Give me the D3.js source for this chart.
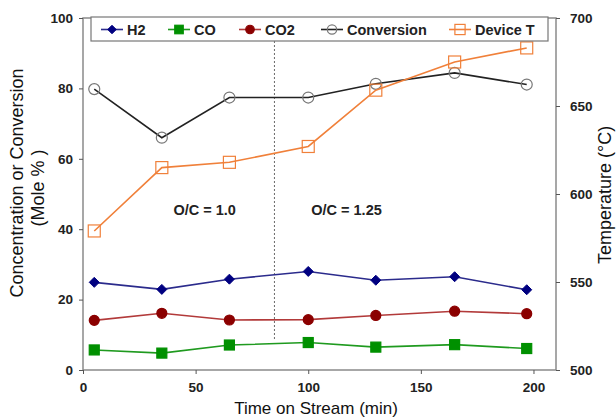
<!DOCTYPE html>
<html><head><meta charset="utf-8">
<script src="https://cdn.jsdelivr.net/npm/d3@7"></script>
<style>
body{margin:0;background:#fff;}
text{font-family:"Liberation Sans",Arial,sans-serif;}
</style></head>
<body><svg id="c" width="616" height="418"></svg>
<script>
const times = [5, 35, 65, 100, 130, 165, 197];
const h2 = [24.9, 22.9, 25.8, 28.0, 25.5, 26.5, 22.8];
const co = [5.7, 4.8, 7.1, 7.8, 6.5, 7.2, 6.1];
const co2 = [14.1, 16.1, 14.2, 14.3, 15.5, 16.7, 16.0];
const conversion = [79.8, 66.0, 77.4, 77.4, 81.3, 84.4, 81.1];
const deviceT = [579, 615, 618, 627, 659, 675, 683];
const xTicks = [0, 50, 100, 150, 200];
const yTicks = [0, 20, 40, 60, 80, 100];
const y2Ticks = [500, 550, 600, 650, 700];
const legendLabels = ["H2", "CO", "CO2", "Conversion", "Device T"];
const annotations = [{x: 54, y: 44, t: "O/C = 1.0"}, {x: 117, y: 44, t: "O/C = 1.25"}];
const dividerX = 85;

const W = 616, H = 418;
const m = {l: 83, r: 60, t: 18, b: 48};
const svg = d3.select("#c");
const x = d3.scaleLinear().domain([0, 210]).range([m.l, W - m.r]);
const y = d3.scaleLinear().domain([0, 100]).range([H - m.b, m.t]);
const y2 = d3.scaleLinear().domain([500, 700]).range([H - m.b, m.t]);

// frame
svg.append("rect").attr("x", m.l).attr("y", m.t).attr("width", W - m.r - m.l).attr("height", H - m.b - m.t)
  .attr("fill", "none").attr("stroke", "#8a8a8a").attr("stroke-width", 1.5);

function styleAxis(g) {
  g.select(".domain").remove();
  g.selectAll(".tick line").attr("stroke", "#555");
  g.selectAll("text").attr("font-size", 13.5).attr("font-weight", "bold").attr("fill", "#222");
}
svg.append("g").attr("transform", `translate(0,${H - m.b})`)
  .call(d3.axisBottom(x).tickValues(xTicks).tickSize(4).tickPadding(8)).call(styleAxis);
svg.append("g").attr("transform", `translate(${m.l},0)`)
  .call(d3.axisLeft(y).tickValues(yTicks).tickSize(4).tickPadding(6)).call(styleAxis);
svg.append("g").attr("transform", `translate(${W - m.r},0)`)
  .call(d3.axisRight(y2).tickValues(y2Ticks).tickSize(4).tickPadding(10)).call(styleAxis);

// divider
svg.append("line").attr("x1", x(dividerX)).attr("x2", x(dividerX)).attr("y1", 41).attr("y2", y(8.5))
  .attr("stroke", "#444").attr("stroke-width", 0.8).attr("stroke-dasharray", "2,2");

// annotations
svg.selectAll(".ann").data(annotations).enter().append("text")
  .attr("x", d => x(d.x)).attr("y", d => y(d.y)).attr("text-anchor", "middle")
  .attr("font-size", 14.5).attr("font-weight", "bold").attr("fill", "#222").text(d => d.t);

const series = [
  {vals: h2, sc: y, line: "#2b2b8c", mark: "diamond", fill: "#000080", stroke: "#000080", size: 5},
  {vals: co, sc: y, line: "#1f9a1f", mark: "square", fill: "#009000", stroke: "#009000", size: 5},
  {vals: co2, sc: y, line: "#b23a3a", mark: "circle", fill: "#8b0000", stroke: "#8b0000", size: 5},
  {vals: conversion, sc: y, line: "#222", mark: "circle", fill: "none", stroke: "#777", size: 5.5},
  {vals: deviceT, sc: y2, line: "#f0803a", mark: "square", fill: "none", stroke: "#f0803a", size: 6}
];

function drawMarker(g, type, cx, cy, s, fill, stroke) {
  if (type === "diamond") {
    g.append("path").attr("d", `M${cx},${cy - s}L${cx + s},${cy}L${cx},${cy + s}L${cx - s},${cy}Z`)
      .attr("fill", fill).attr("stroke", stroke);
  } else if (type === "square") {
    g.append("rect").attr("x", cx - s).attr("y", cy - s).attr("width", 2 * s).attr("height", 2 * s)
      .attr("fill", fill).attr("stroke", stroke).attr("stroke-width", 1.2);
  } else {
    g.append("circle").attr("cx", cx).attr("cy", cy).attr("r", s)
      .attr("fill", fill).attr("stroke", stroke).attr("stroke-width", 1.2);
  }
}

series.forEach(s => {
  const ln = d3.line().x((d, i) => x(times[i])).y(d => s.sc(d));
  svg.append("path").attr("d", ln(s.vals)).attr("fill", "none").attr("stroke", s.line).attr("stroke-width", 1.6);
  const g = svg.append("g");
  s.vals.forEach((v, i) => drawMarker(g, s.mark, x(times[i]), s.sc(v), s.size, s.fill, s.stroke));
});

// legend
svg.append("rect").attr("x", 91).attr("y", 17).attr("width", 457).attr("height", 24)
  .attr("fill", "#fff").attr("stroke", "#777").attr("stroke-width", 1.2);
const legX = [112, 179, 250, 332, 460];
legendLabels.forEach((lab, i) => {
  const s = series[i];
  const cx = legX[i], cy = 29.5;
  svg.append("line").attr("x1", cx - 11).attr("x2", cx + 11).attr("y1", cy).attr("y2", cy)
    .attr("stroke", s.line).attr("stroke-width", 1.6);
  drawMarker(svg, s.mark, cx, cy, s.size * 0.85, s.fill, s.stroke);
  svg.append("text").attr("x", cx + 15).attr("y", cy + 5).attr("font-size", 14.5).attr("font-weight", "bold")
    .attr("fill", "#222").text(lab);
});

// axis titles
svg.append("text").attr("x", 316).attr("y", 414).attr("text-anchor", "middle").attr("font-size", 17)
  .attr("fill", "#111").text("Time on Stream (min)");
svg.append("text").attr("transform", "translate(23,183) rotate(-90)").attr("text-anchor", "middle")
  .attr("font-size", 18).attr("fill", "#111").text("Concentration or Conversion");
svg.append("text").attr("transform", "translate(44,188) rotate(-90)").attr("text-anchor", "middle")
  .attr("font-size", 18).attr("fill", "#111").text("(Mole % )");
svg.append("text").attr("transform", "translate(611,195) rotate(-90)").attr("text-anchor", "middle")
  .attr("font-size", 18).attr("fill", "#111").text("Temperature (°C)");
</script></body></html>
